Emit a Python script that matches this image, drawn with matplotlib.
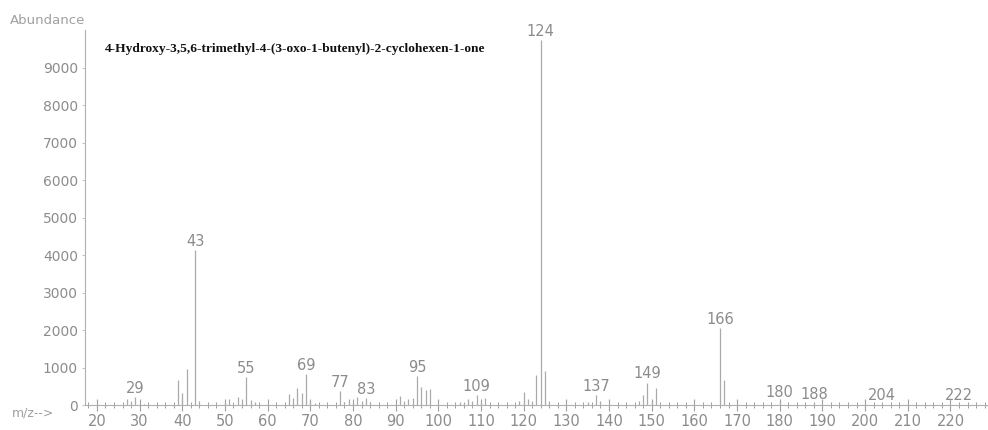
import numpy as np
import matplotlib.pyplot as plt
from matplotlib.ticker import MultipleLocator

compound = "4-Hydroxy-3,5,6-trimethyl-4-(3-oxo-1-butenyl)-2-cyclohexen-1-one"

mz = [27, 28, 29, 31,
      39, 40, 41, 43, 44,
      50, 51, 53, 54, 55, 56, 57,
      65, 66, 67, 68, 69, 70, 71,
      77, 78, 79, 80, 81, 82, 83, 84,
      91, 92, 93, 94, 95, 96, 97, 98,
      105, 106, 107, 108, 109, 110, 111,
      119, 120, 121, 122, 123, 124, 125, 126,
      135, 137, 138,
      147, 148, 149, 150, 151,
      166, 167,
      180, 188, 204, 222]
abundance = [150, 120, 210, 40,
             670, 320, 960, 4130, 120,
             80, 150, 220, 150, 750, 130, 80,
             300, 180, 450, 320, 830, 120, 60,
             370, 80, 150, 60, 220, 100, 180, 80,
             240, 120, 160, 180, 770, 490, 400, 420,
             80, 60, 150, 100, 270, 80, 190,
             100, 350, 150, 100, 800, 9730, 910, 100,
             80, 270, 120,
             120, 270, 600, 100, 450,
             2050, 670,
             100, 50, 30, 30]

labeled = [29, 43, 55, 69, 77, 83, 95, 109, 124, 137, 149, 166, 180, 188, 204, 222]

gray = '#8c8c8c'
line_gray = '#aaaaaa'

fig = plt.figure(figsize=(9.88, 4.3), dpi=100)
ax = fig.add_axes([0.086, 0.058, 0.914, 0.872])

ax.vlines(mz, 0, abundance, color=line_gray, linewidth=0.9)

peaks = dict(zip(mz, abundance))
for m in labeled:
    ax.annotate(str(m), (m, peaks[m]), xytext=(0, 1), textcoords='offset points',
                ha='center', va='bottom', fontsize=10.5, color=gray)

ax.set_xlim(17.2, 228.8)
ax.set_ylim(0, 10000)
ax.xaxis.set_major_locator(MultipleLocator(10))
ax.xaxis.set_minor_locator(MultipleLocator(2))
ax.set_yticks(range(0, 10000, 1000))

for side in ['top', 'right']:
    ax.spines[side].set_visible(False)
for side in ['left', 'bottom']:
    ax.spines[side].set_color('#b0b0b0')
    ax.spines[side].set_linewidth(0.8)

ax.tick_params(axis='x', which='major', direction='inout', length=9, width=0.8,
               color='#a0a0a0', labelsize=10.5, labelcolor=gray, pad=2)
ax.tick_params(axis='x', which='minor', direction='inout', length=5, width=0.7,
               color='#a0a0a0')
ax.tick_params(axis='y', which='major', direction='out', length=2, width=0.7,
               color='#c0c0c0', labelsize=10, labelcolor=gray, pad=3)

fig.text(0.086, 0.952, 'Abundance', ha='right', va='center', fontsize=9.5, color='#a0a0a0')
fig.text(0.055, 0.040, 'm/z-->', ha='right', va='center', fontsize=9, color='#a0a0a0')

ax.text(0.022, 0.95, compound, transform=ax.transAxes, ha='left', va='center',
        fontsize=9.6, fontweight='bold', family='Liberation Serif', color='#111111')

fig.savefig('out.png', dpi=100)
